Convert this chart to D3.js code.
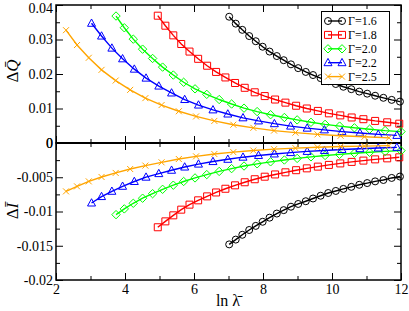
<!DOCTYPE html>
<html><head><meta charset="utf-8">
<script src="https://cdn.jsdelivr.net/npm/d3@7"></script>
<style>
html,body{margin:0;padding:0;background:#fff;}
svg{display:block;font-family:"Liberation Serif","Times New Roman",serif;}
.axis path{display:none;}
.axis line{stroke:#000;stroke-width:1;}
.axis text{fill:#000;font-family:"Liberation Serif",serif;}
</style></head>
<body>
<svg id="c" width="409" height="311"></svg>
<script>
// ---- data ----
const gammas = ["1.6","1.8","2.0","2.2","2.5"];
const colors = ["#000000","#ff0000","#00ff00","#0000ff","#ffa500"];
const shapes = ["circle","square","diamond","triangle","cross"];

const x16 = [7.02,7.21,7.40,7.60,7.79,7.99,8.19,8.40,8.60,8.81,9.02,9.24,9.45,9.67,9.89,10.11,10.33,10.56,10.79,11.02,11.25,11.49,11.73,11.97];
const q16 = [0.0366,0.0346,0.0328,0.0310,0.0295,0.0279,0.0265,0.0252,0.0240,0.0228,0.0217,0.0206,0.0197,0.0188,0.0179,0.0171,0.0163,0.0156,0.0149,0.0143,0.0137,0.0131,0.0125,0.0120];
const i16 = [-0.0148,-0.0141,-0.0134,-0.0127,-0.0121,-0.0115,-0.0109,-0.0103,-0.0098,-0.0093,-0.0089,-0.0085,-0.0081,-0.0077,-0.0073,-0.0070,-0.0067,-0.0064,-0.0061,-0.00585,-0.0056,-0.0054,-0.0051,-0.0049];

const x18 = [4.95,5.17,5.40,5.63,5.87,6.12,6.38,6.64,6.91,7.19,7.47,7.76,8.05,8.35,8.65,8.96,9.27,9.59,9.91,10.24,10.57,10.91,11.25,11.60,11.95];
const q18 = [0.0369,0.0340,0.0312,0.0287,0.0265,0.0244,0.0224,0.0206,0.0190,0.0174,0.0160,0.0147,0.0136,0.0126,0.0117,0.0108,0.0100,0.0093,0.0086,0.0080,0.0074,0.0069,0.0064,0.0060,0.0056];
const i18 = [-0.0123,-0.01144,-0.01056,-0.00973,-0.00900,-0.00837,-0.00779,-0.00722,-0.00668,-0.00618,-0.00573,-0.00529,-0.00492,-0.00459,-0.00428,-0.00397,-0.00370,-0.00345,-0.00320,-0.00298,-0.00276,-0.00257,-0.00239,-0.00224,-0.00209];

const x20 = [3.74,3.98,4.24,4.51,4.80,5.09,5.40,5.70,6.03,6.37,6.73,7.09,7.45,7.83,8.22,8.62,8.99,9.39,9.80,10.22,10.65,11.09,11.54,12.00];
const q20 = [0.0368,0.0334,0.0301,0.0272,0.0245,0.0220,0.0197,0.0176,0.0157,0.0141,0.0126,0.0113,0.0101,0.0091,0.0082,0.0074,0.0067,0.0060,0.0054,0.0049,0.0044,0.0040,0.0036,0.0033];
const i20 = [-0.01046,-0.00962,-0.00880,-0.00806,-0.00740,-0.00676,-0.00616,-0.00562,-0.00510,-0.00461,-0.00415,-0.00374,-0.00336,-0.00304,-0.00275,-0.00248,-0.00225,-0.00202,-0.00182,-0.00166,-0.00149,-0.00136,-0.00123,-0.00112];

const x22 = [3.03,3.32,3.62,3.93,4.27,4.61,4.98,5.35,5.73,6.13,6.55,6.98,7.42,7.87,8.33,8.80,9.28,9.78,10.29,10.81,11.34,11.88];
const q22 = [0.0347,0.0310,0.0275,0.0244,0.0214,0.0188,0.0165,0.0145,0.0126,0.0110,0.0096,0.0084,0.0073,0.0064,0.0056,0.0049,0.0043,0.0038,0.0033,0.0029,0.0025,0.0022];
const i22 = [-0.00876,-0.00782,-0.00705,-0.00632,-0.00562,-0.00499,-0.00447,-0.00398,-0.00351,-0.00308,-0.00271,-0.00238,-0.00207,-0.00182,-0.00160,-0.00140,-0.00123,-0.00109,-0.00095,-0.00083,-0.00073,-0.00064];

const x25 = [2.29,2.61,2.95,3.32,3.73,4.15,4.59,5.06,5.56,6.06,6.59,7.14,7.72,8.32,8.94,9.58,10.25,10.94,11.65];
const q25 = [0.0327,0.0284,0.0247,0.0212,0.0181,0.0154,0.0130,0.0110,0.0092,0.0077,0.0064,0.0053,0.0044,0.0036,0.0030,0.0025,0.0021,0.0018,0.0015];
const i25 = [-0.00706,-0.00633,-0.00560,-0.00496,-0.00437,-0.00380,-0.00330,-0.00282,-0.00234,-0.00195,-0.00161,-0.00133,-0.00110,-0.00090,-0.00075,-0.00062,-0.00052,-0.00045,-0.00038];

const xsAll = [x16,x18,x20,x22,x25];
const qsAll = [q16,q18,q20,q22,q25];
const isAll = [i16,i18,i20,i22,i25];

const xMajor = [2,4,6,8,10,12];
const xMinor = [3,5,7,9,11];
const qMajor = [0,0.01,0.02,0.03,0.04];
const qMinor = [0.005,0.015,0.025,0.035];
const qLabels = ["0","0.01","0.02","0.03","0.04"];
const iMajor = [-0.02,-0.015,-0.01,-0.005,0];
const iMinor = [-0.0175,-0.0125,-0.0075,-0.0025];
const iLabels = ["-0.02","-0.015","-0.01","-0.005","0"];

// ---- layout ----
const L = 56, R = 401, T = 5, M = 143, B = 280;
const svg = d3.select("#c");
const x = d3.scaleLinear().domain([2,12]).range([L,R]);
const yq = d3.scaleLinear().domain([0,0.04]).range([M,T]);
const yi = d3.scaleLinear().domain([-0.02,0]).range([B,M]);

function addAxis(axis, tx, ty){
  return svg.append("g").attr("class","axis").attr("transform",`translate(${tx},${ty})`).call(axis);
}
const MAJ = 7, MIN = 4;
[M,B].forEach(yy=>{
  addAxis(d3.axisBottom(x).tickValues(xMajor).tickSize(-MAJ).tickPadding(4).tickFormat(yy===B? d3.format("d") : ""), 0, yy);
  addAxis(d3.axisBottom(x).tickValues(xMinor).tickSize(-MIN).tickFormat(""), 0, yy);
});
[T,M].forEach(yy=>{
  addAxis(d3.axisTop(x).tickValues(xMajor).tickSize(-MAJ).tickFormat(""), 0, yy);
  addAxis(d3.axisTop(x).tickValues(xMinor).tickSize(-MIN).tickFormat(""), 0, yy);
});
const qAx = addAxis(d3.axisLeft(yq).tickValues(qMajor).tickSize(-MAJ).tickPadding(3).tickFormat((d,i)=>qLabels[i]), L, 0);
addAxis(d3.axisLeft(yq).tickValues(qMinor).tickSize(-MIN).tickFormat(""), L, 0);
addAxis(d3.axisRight(yq).tickValues(qMajor).tickSize(-MAJ).tickFormat(""), R, 0);
addAxis(d3.axisRight(yq).tickValues(qMinor).tickSize(-MIN).tickFormat(""), R, 0);
addAxis(d3.axisLeft(yi).tickValues(iMajor).tickSize(-MAJ).tickPadding(3).tickFormat((d,i)=>iLabels[i]), L, 0);
addAxis(d3.axisLeft(yi).tickValues(iMinor).tickSize(-MIN).tickFormat(""), L, 0);
addAxis(d3.axisRight(yi).tickValues(iMajor).tickSize(-MAJ).tickFormat(""), R, 0);
addAxis(d3.axisRight(yi).tickValues(iMinor).tickSize(-MIN).tickFormat(""), R, 0);
svg.selectAll(".axis text").attr("font-size",14);
// keep the top label inside the picture
qAx.selectAll(".tick text").filter(d=>d===0.04).attr("dy","0.5em");

// frames
svg.append("rect").attr("x",L).attr("y",T).attr("width",R-L).attr("height",M-T)
  .attr("fill","none").attr("stroke","#000").attr("stroke-width",1.5);
svg.append("rect").attr("x",L).attr("y",M).attr("width",R-L).attr("height",B-M)
  .attr("fill","none").attr("stroke","#000").attr("stroke-width",1.5);
svg.append("line").attr("x1",L).attr("x2",R).attr("y1",M).attr("y2",M).attr("stroke","#000").attr("stroke-width",2);

// markers
function markerPath(shape){
  switch(shape){
    case "circle": return "M3.5,0A3.5,3.5 0 1,1 -3.5,0A3.5,3.5 0 1,1 3.5,0Z";
    case "square": return "M-3.5,-3.5H3.5V3.5H-3.5Z";
    case "diamond": return "M0,-4.2L4.2,0L0,4.2L-4.2,0Z";
    case "triangle": return "M0,-4.3L4,3L-4,3Z";
    case "cross": return "M-3,-3L3,3M-3,3L3,-3";
  }
}
const line = d3.line();
function drawSeries(xs, ys, yScale, k){
  const pts = xs.map((v,j)=>[x(v), yScale(ys[j])]);
  svg.append("path").attr("d",line(pts)).attr("fill","none").attr("stroke",colors[k]).attr("stroke-width",1.4);
  svg.append("g").selectAll("path").data(pts).enter().append("path")
    .attr("transform",d=>`translate(${d[0]},${d[1]})`)
    .attr("d",markerPath(shapes[k])).attr("fill","none").attr("stroke",colors[k]).attr("stroke-width",1);
}
for(let k=0;k<5;k++){
  drawSeries(xsAll[k], qsAll[k], yq, k);
  drawSeries(xsAll[k], isAll[k], yi, k);
}

// legend
const lg = svg.append("g");
lg.append("rect").attr("x",321.5).attr("y",11.5).attr("width",68).attr("height",73)
  .attr("fill","#fff").attr("stroke","#000").attr("stroke-width",1);
gammas.forEach((g,k)=>{
  const yy = 21 + k*13.9;
  lg.append("line").attr("x1",328).attr("x2",342).attr("y1",yy).attr("y2",yy).attr("stroke",colors[k]).attr("stroke-width",1.4);
  [328,342].forEach(xx=>lg.append("path").attr("transform",`translate(${xx},${yy})`).attr("d",markerPath(shapes[k]))
    .attr("fill","none").attr("stroke",colors[k]).attr("stroke-width",1));
  lg.append("text").attr("x",348).attr("y",yy).attr("dy","0.35em").attr("font-size",12).text("Γ="+g);
});

// axis titles
svg.append("text").attr("x",228).attr("y",306).attr("text-anchor","middle").attr("font-size",16)
  .text("ln  λ\u0304");
svg.append("text").attr("transform","translate(18,71) rotate(-90)").attr("text-anchor","middle").attr("font-size",17)
  .html('Δ<tspan font-style="italic">Q\u0304</tspan>');
svg.append("text").attr("transform","translate(18,211) rotate(-90)").attr("text-anchor","middle").attr("font-size",17)
  .html('Δ<tspan font-style="italic">I\u0304</tspan>');
</script>
</body></html>
